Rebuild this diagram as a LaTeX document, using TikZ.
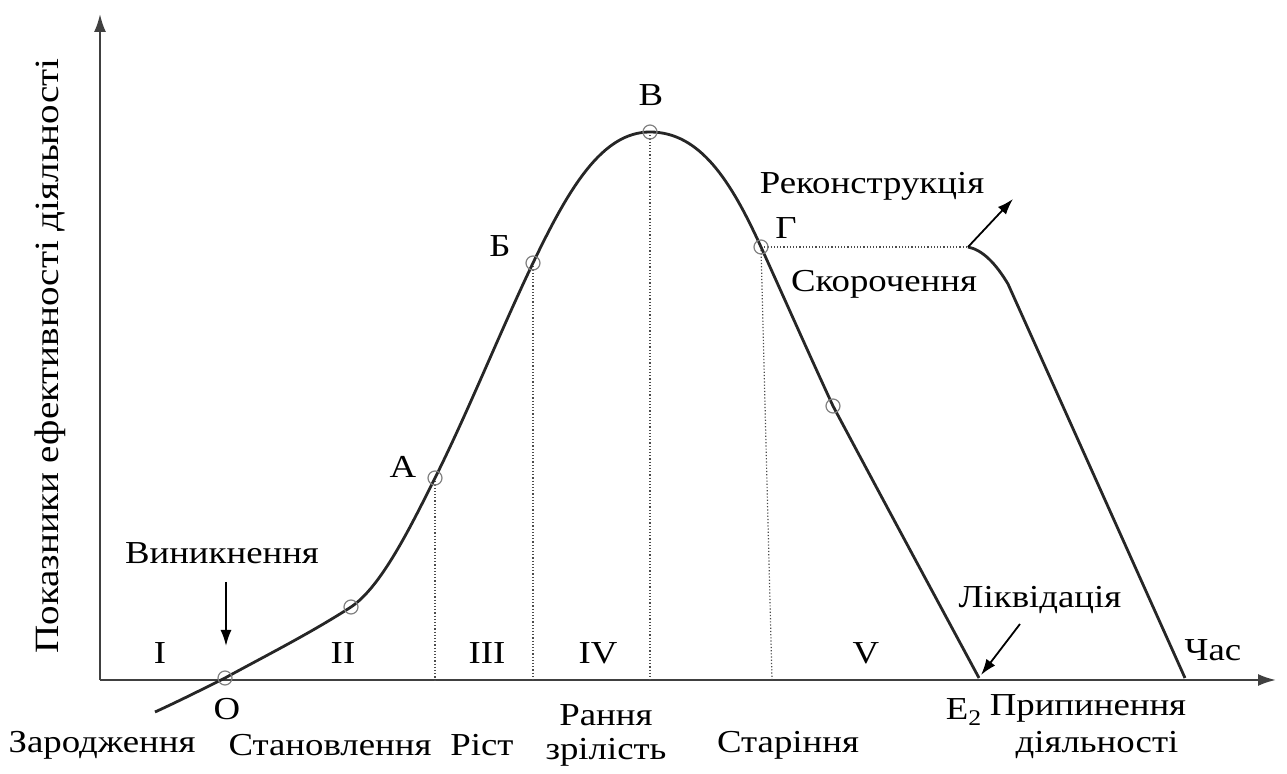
\documentclass[tikz,border=0pt]{standalone}
\usepackage{fontspec}
\setmainfont{Liberation Serif}[FakeStretch=1.15]
\usetikzlibrary{arrows.meta}
\begin{document}
\begin{tikzpicture}[x=0.5pt,y=-0.5pt,
  every node/.style={font=\fontsize{16}{18}\selectfont, inner sep=0pt},
  axis/.style={line width=1.1pt, draw=black!75, -{Latex[length=9pt,width=6pt]}},
  curve/.style={line width=1.4pt, draw=black!85},
  guide/.style={densely dotted, line width=0.6pt, draw=black!70},
  pt/.style={circle, draw=black!50, line width=0.6pt, minimum size=7pt, fill=none},
  pointer/.style={line width=0.9pt, -{Latex[length=8pt,width=5.5pt]}}]
\useasboundingbox (0,0) rectangle (1287,774);
% axes
\coordinate (origin) at (100,680);
\coordinate (ytip) at (100,14);
\coordinate (xtip) at (1276,680);
\draw[axis] (origin) -- (ytip);
\draw[axis] (origin) -- (xtip);
% key points
\coordinate (start) at (155,712);
\coordinate (pO) at (225,678);
\coordinate (pII) at (351,607);
\coordinate (pA) at (435,478);
\coordinate (pB) at (533,263);
\coordinate (pV) at (650,132);
\coordinate (pG) at (761,247);
\coordinate (pD) at (833,406);
\coordinate (pE) at (979,678);
\coordinate (corner) at (968,247);
\coordinate (end2) at (1185,678);
\coordinate (recon) at (1013,199);
% guides
\draw[guide] (pA) -- (435,680);
\draw[guide] (pB) -- (533,680);
\draw[guide] (pV) -- (650,680);
\draw[guide] (pG) -- (772,680);
\draw[guide] (pG) -- (corner);
% main curve
\draw[curve] (start) .. controls (178,701.5) and (202,689.5) .. (pO)
  .. controls (267,655) and (309,634) .. (pII)
  .. controls (381,587) and (410,528) .. (pA)
  .. controls (468,412) and (500,332) .. (pB)
  .. controls (569,188) and (602,132) .. (pV)
  .. controls (700,132) and (731,181) .. (pG)
  .. controls (785,300) and (809,354) .. (pD)
  .. controls (882,498) and (930,587) .. (pE);
% second curve
\draw[curve] (corner) .. controls (983,250) and (996,264) .. (1008,284) -- (end2);
\draw[pointer] (corner) -- (recon);
% point markers
\foreach \p in {pO,pII,pA,pB,pV,pG,pD} \node[pt] at (\p) {};
% arrows
\node (vyn) at (222,553) {Виникнення};
\draw[pointer] (226,582) -- (226,646);
\node (likv) at (1040,600) {Ліквідація};
\draw[pointer] (1020,624) -- (981,675);
% labels
\node (lI) at (160,653) {I};
\node (lII) at (343,653) {II};
\node (lIII) at (487,653) {III};
\node (lIV) at (598,653) {IV};
\node (lV) at (866,653) {V};
\node (lO) at (227,709) {O};
\node (lA) at (403,467) {А};
\node (lB) at (500,246) {Б};
\node (lV2) at (651,95) {В};
\node (lG) at (786,228) {Г};
\node (recl) at (872,186) {Реконструкція};
\node (skor) at (884,284) {Скорочення};
\node (chas) at (1213,650) {Час};
\node (e2) at (964,712) {E\textsubscript{2}};
\node (prip) at (1088,708) {Припинення};
\node (diy) at (1097,745) {діяльності};
\node (zar) at (102,745) {Зародження};
\node (stan) at (330,745) {Становлення};
\node (rist) at (482,745) {Ріст};
\node (rann) at (606,715) {Рання};
\node (zril) at (606,752) {зрілість};
\node (star) at (788,745) {Старіння};
\node[rotate=90, font=\fontsize{17}{19}\selectfont] (ylab) at (50,356) {Показники ефективності діяльності};
\end{tikzpicture}
\end{document}
